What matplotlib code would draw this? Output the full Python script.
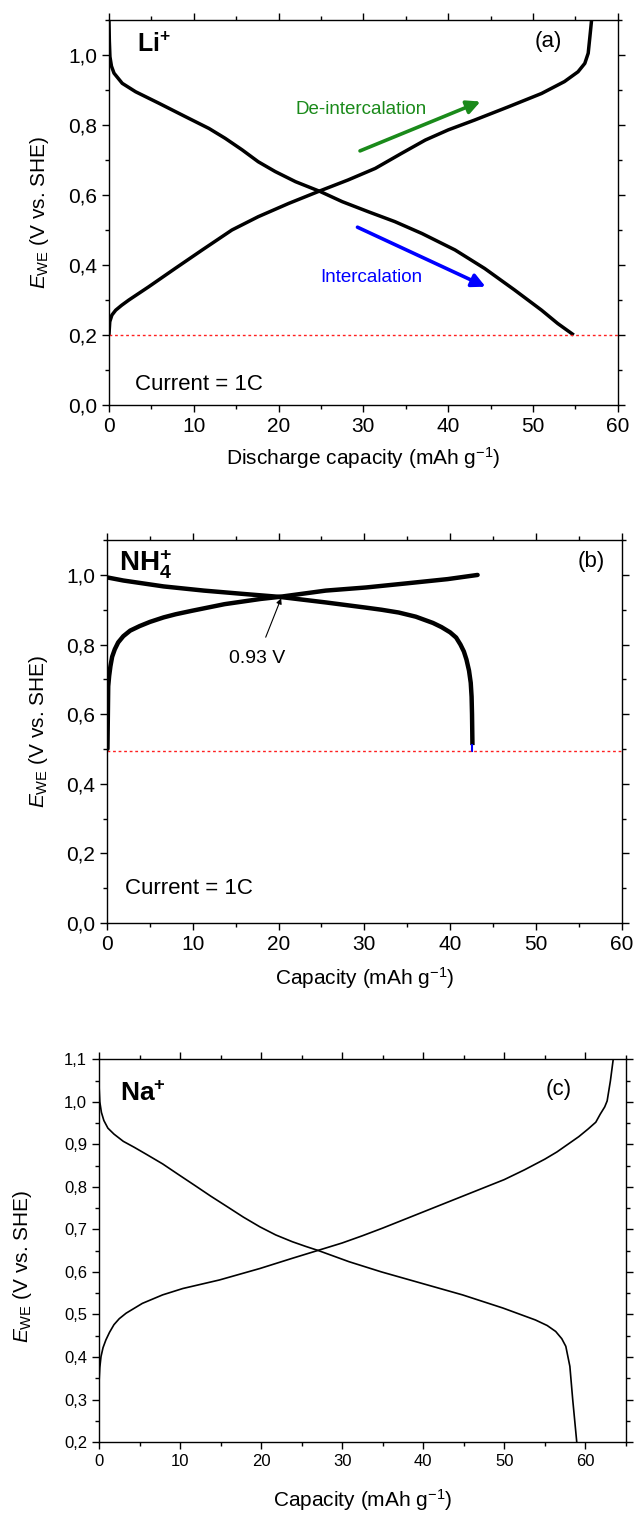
import matplotlib.pyplot as plt
from matplotlib.ticker import MultipleLocator, FuncFormatter

plt.rcParams['font.family'] = ['Liberation Sans', 'DejaVu Sans']
plt.rcParams['mathtext.fontset'] = 'custom'
plt.rcParams['mathtext.rm'] = 'Liberation Sans'
plt.rcParams['mathtext.it'] = 'Liberation Sans:italic'
plt.rcParams['mathtext.bf'] = 'Liberation Sans:bold'

# (a) Li+ : charge (de-intercalation) and discharge (intercalation)
li_charge_q = [0, 0.1, 0.35, 0.8, 1.5, 2.35, 4.7, 7.8, 11.0, 14.5, 17.6, 21.2, 24.9, 28.2,
               31.4, 34.5, 37.3, 40.0, 43.1, 47.1, 51.0, 53.7, 55.3, 56.1, 56.5, 56.7, 56.9]
li_charge_e = [0.2, 0.238, 0.257, 0.271, 0.285, 0.30, 0.338, 0.390, 0.443, 0.50, 0.538, 0.576,
               0.612, 0.643, 0.676, 0.719, 0.757, 0.786, 0.814, 0.852, 0.890, 0.924, 0.952,
               0.976, 1.005, 1.052, 1.10]
li_dis_q = [0, 0.05, 0.12, 0.3, 0.6, 1.57, 3.14, 5.9, 9.0, 11.8, 13.7, 15.7, 17.6, 19.6,
            22.0, 24.9, 27.5, 30.6, 33.7, 36.9, 40.8, 44.3, 47.8, 51.0, 52.9, 54.8]
li_dis_e = [1.10, 1.04, 0.995, 0.968, 0.948, 0.919, 0.895, 0.862, 0.824, 0.790, 0.762, 0.729,
            0.695, 0.667, 0.638, 0.610, 0.581, 0.552, 0.524, 0.490, 0.443, 0.390, 0.329,
            0.271, 0.233, 0.2]
li_cutoff = 0.2

# (b) NH4+
nh4_charge_q = [0.05, 0.1, 0.14, 0.25, 0.4, 0.6, 0.9, 1.3, 1.9, 2.7, 3.8, 5.0, 6.6, 8.0,
                9.9, 13.7, 17.9, 20.1, 25.5, 30.2, 35.0, 39.7, 43.2]
nh4_charge_e = [0.50, 0.60, 0.68, 0.71, 0.738, 0.765, 0.786, 0.806, 0.824, 0.84, 0.853, 0.865,
                0.878, 0.887, 0.897, 0.916, 0.931, 0.937, 0.955, 0.964, 0.976, 0.988, 1.0]
nh4_dis_q = [0, 1.9, 6.6, 11.3, 16.1, 20.1, 25.5, 30.2, 32.0, 34.0, 36.0, 38.0, 39.0, 40.0,
             40.7, 41.2, 41.6, 41.9, 42.2, 42.4, 42.5, 42.55, 42.6]
nh4_dis_e = [0.993, 0.984, 0.967, 0.955, 0.945, 0.937, 0.921, 0.906, 0.900, 0.892, 0.880,
             0.862, 0.850, 0.835, 0.82, 0.80, 0.78, 0.757, 0.725, 0.69, 0.65, 0.60, 0.511]
nh4_tail_q = [42.6, 42.6]
nh4_tail_e = [0.511, 0.495]
nh4_cutoff = 0.495
nh4_cross_q, nh4_cross_e = 20.3, 0.933

# (c) Na+
na_charge_q = [0, 0, 0.1, 0.25, 0.5, 0.85, 1.3, 1.85, 2.5, 3.35, 5.35, 7.85, 10.35, 14.85,
               19.85, 23.85, 27.1, 30.0, 32.5, 35.0, 37.5, 40.0, 42.5, 45.0, 47.5, 50.0,
               52.5, 55.0, 56.5, 57.85, 59.2, 60.35, 61.3, 61.85, 62.4, 62.7, 63.1, 63.45]
na_charge_e = [0.2, 0.339, 0.375, 0.401, 0.422, 0.440, 0.458, 0.476, 0.49, 0.503, 0.526,
               0.546, 0.561, 0.581, 0.608, 0.632, 0.651, 0.668, 0.685, 0.703, 0.722, 0.741,
               0.760, 0.779, 0.798, 0.817, 0.840, 0.865, 0.882, 0.900, 0.918, 0.936, 0.952,
               0.971, 0.988, 1.002, 1.049, 1.1]
na_dis_q = [0, 0.1, 0.3, 0.6, 1.1, 1.85, 3.0, 4.35, 5.8, 7.85, 9.8, 11.85, 13.8, 15.85,
            17.8, 19.85, 21.8, 23.85, 25.5, 27.1, 30.85, 34.85, 39.85, 44.85, 49.85, 53.85,
            55.3, 56.35, 57.1, 57.6, 58.1, 58.45, 58.95]
na_dis_e = [1.041, 1.0, 0.975, 0.956, 0.938, 0.924, 0.907, 0.893, 0.877, 0.854, 0.829, 0.803,
            0.778, 0.753, 0.729, 0.706, 0.687, 0.671, 0.660, 0.650, 0.624, 0.600, 0.573,
            0.546, 0.515, 0.487, 0.474, 0.460, 0.443, 0.425, 0.378, 0.300, 0.2]

comma = FuncFormatter(lambda v, p: f'{v:.1f}'.replace('.', ','))
ylab = r'$E_{\mathrm{WE}}$ (V vs. SHE)'


def style_axes(ax, ymajor, yminor, tick_fs):
    ax.xaxis.set_major_locator(MultipleLocator(10))
    ax.xaxis.set_minor_locator(MultipleLocator(5))
    ax.yaxis.set_major_locator(MultipleLocator(ymajor))
    ax.yaxis.set_minor_locator(MultipleLocator(yminor))
    ax.yaxis.set_major_formatter(comma)
    ax.tick_params(which='both', direction='out', top=True, right=True, width=1.0,
                   labelsize=tick_fs)
    ax.tick_params(which='major', length=5)
    ax.tick_params(which='minor', length=3)
    for s in ax.spines.values():
        s.set_linewidth(1.0)


fig = plt.figure(figsize=(6.37, 15.13), dpi=100)

# ---- panel (a)
ax1 = fig.add_axes([0.171, 0.7323, 0.799, 0.2545])
ax1.plot(li_charge_q, li_charge_e, color='black', lw=2.5, solid_capstyle='butt')
ax1.plot(li_dis_q, li_dis_e, color='black', lw=2.5, solid_capstyle='butt')
ax1.axhline(li_cutoff, color='#ff2020', lw=1.0, ls=(0, (2, 2)))
ax1.set_xlim(0, 60)
ax1.set_ylim(0, 1.1)
style_axes(ax1, 0.2, 0.1, 15)
ax1.set_xlabel('Discharge capacity (mAh g$^{-1}$)', fontsize=15, labelpad=7)
ax1.set_ylabel(ylab, fontsize=15)
ax1.yaxis.set_label_coords(-0.114, 0.5)
ax1.text(3.3, 1.03, r'$\mathbf{Li}^{\mathbf{+}}$', fontsize=18, va='center', ha='left')
ax1.text(51.8, 1.038, '(a)', fontsize=16, va='center', ha='center')
ax1.text(3.06, 0.059, 'Current = 1C', fontsize=16, va='center', ha='left')
ax1.annotate('', xy=(43.8, 0.867), xytext=(29.6, 0.726),
             arrowprops=dict(arrowstyle='-|>', color='#1a8a1a', lw=2.6, mutation_scale=20,
                             shrinkA=0, shrinkB=0))
ax1.annotate('', xy=(44.4, 0.338), xytext=(29.3, 0.508),
             arrowprops=dict(arrowstyle='-|>', color='#0000ff', lw=2.6, mutation_scale=20,
                             shrinkA=0, shrinkB=0))
ax1.text(29.7, 0.843, 'De-intercalation', color='#1a8a1a', fontsize=13.5, ha='center',
         va='center')
ax1.text(30.9, 0.365, 'Intercalation', color='#0000ff', fontsize=13.5, ha='center',
         va='center')

# ---- panel (b)
ax2 = fig.add_axes([0.168, 0.390, 0.808, 0.253])
ax2.plot(nh4_charge_q, nh4_charge_e, color='black', lw=3.2, solid_capstyle='round')
ax2.plot(nh4_dis_q, nh4_dis_e, color='black', lw=3.2, solid_capstyle='butt')
ax2.plot(nh4_tail_q, nh4_tail_e, color='#0000ff', lw=1.5)
ax2.axhline(nh4_cutoff, color='#ff2020', lw=1.0, ls=(0, (2, 2)))
ax2.set_xlim(0, 60)
ax2.set_ylim(0, 1.1)
style_axes(ax2, 0.2, 0.1, 15)
ax2.set_xlabel('Capacity (mAh g$^{-1}$)', fontsize=15, labelpad=8)
ax2.set_ylabel(ylab, fontsize=15)
ax2.yaxis.set_label_coords(-0.111, 0.5)
ax2.text(1.4, 1.03, r'$\mathbf{NH}_{\mathbf{4}}^{\mathbf{+}}$', fontsize=20, va='center',
         ha='left')
ax2.text(56.4, 1.04, '(b)', fontsize=16, va='center', ha='center')
ax2.text(2.1, 0.10, 'Current = 1C', fontsize=16, va='center', ha='left')
ax2.annotate('0.93 V', xy=(nh4_cross_q, nh4_cross_e), xytext=(17.5, 0.759), fontsize=14,
             ha='center', va='center',
             arrowprops=dict(arrowstyle='-|>', color='black', lw=0.8, mutation_scale=8,
                             shrinkA=8, shrinkB=0))

# ---- panel (c)
ax3 = fig.add_axes([0.1554, 0.0469, 0.827, 0.253])
ax3.plot(na_charge_q, na_charge_e, color='black', lw=1.2)
ax3.plot(na_dis_q, na_dis_e, color='black', lw=1.2)
ax3.set_xlim(0, 65)
ax3.set_ylim(0.2, 1.1)
style_axes(ax3, 0.1, 0.05, 12)
ax3.set_xlabel('Capacity (mAh g$^{-1}$)', fontsize=15, labelpad=13)
ax3.set_ylabel(ylab, fontsize=15)
ax3.yaxis.set_label_coords(-0.123, 0.46)
ax3.text(2.6, 1.018, r'$\mathbf{Na}^{\mathbf{+}}$', fontsize=19, va='center', ha='left')
ax3.text(56.75, 1.03, '(c)', fontsize=16, va='center', ha='center')

fig.savefig('out.png', dpi=100, facecolor='white')
